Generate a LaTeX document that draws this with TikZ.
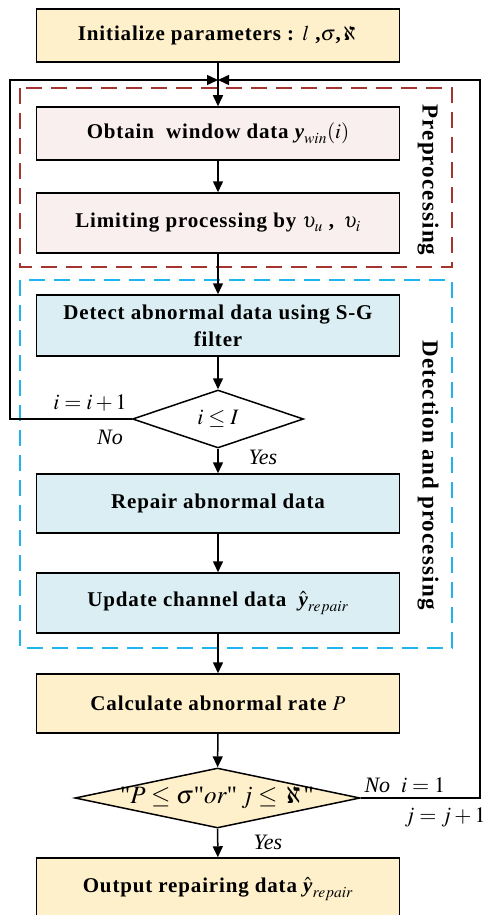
\documentclass[tikz,border=0pt]{standalone}
\usepackage{amsmath}
\usepackage{mathptmx}
\usepackage{fontspec}
\setmainfont{Liberation Serif}
\usetikzlibrary{arrows.meta,shapes.geometric}

\definecolor{boxyellow}{HTML}{FFF0CC}
\definecolor{boxpink}{HTML}{F9EFEE}
\definecolor{boxblue}{HTML}{DAEEF3}
\definecolor{dashred}{HTML}{A4342F}
\definecolor{dashblue}{HTML}{1EB4EE}
\newcommand{\bfy}{\mbox{\bfseries\itshape y}}
\newcommand{\qq}{\textquotedbl}

\tikzset{
  procbox/.style={draw, line width=1.5pt, minimum width=363pt, inner sep=2pt,
    align=center, font=\fontsize{21}{27}\selectfont\bfseries\addfontfeature{LetterSpace=4}},
  decbox/.style={diamond, draw, line width=1.5pt, inner sep=0pt},
  flow/.style={line width=1.5pt, -{Triangle[length=11pt,width=10pt]}},
  grouprect/.style={line width=1.5pt, dash pattern=on 16pt off 9pt},
  sidelabel/.style={rotate=-90, font=\fontsize{23}{25}\selectfont\bfseries\addfontfeature{LetterSpace=5}},
  note/.style={font=\fontsize{22}{24}\selectfont}
}

\begin{document}
\begin{tikzpicture}[x=1pt,y=-1pt]
   \clip (0,0) rectangle (488,915);
   \fill[white] (0,0) rectangle (488,915);

   \draw[grouprect, dashred] (20,88) rectangle (452,267);
   \draw[grouprect, dashblue] (20,280) rectangle (452,648);
   \node[sidelabel] (pre) at (428,180) {Preprocessing};
   \node[sidelabel] (det) at (428,475) {Detection and processing};

   \node[procbox, fill=boxyellow, minimum height=53pt] (init) at (218,35.5)
     {Initialize parameters : $l$ ,$\sigma$,$\aleph$};
   \node[procbox, fill=boxpink, minimum height=53pt] (obtain) at (218,133.5)
     {Obtain\ \ window data $\bfy_{win}(i)$};
   \node[procbox, fill=boxpink, minimum height=60pt] (limit) at (218,223)
     {Limiting processing by $\upsilon_u$ , \,$\upsilon_i$};
   \node[procbox, fill=boxblue, minimum height=61pt] (detect) at (218,325.5)
     {Detect abnormal data using S-G\\filter};
   \node[decbox, aspect=2.95, minimum width=171pt, minimum height=58pt,
     font=\fontsize{22}{24}\selectfont] (dec1) at (218,419) {$i\le I$};
   \node[procbox, fill=boxblue, minimum height=59pt] (repair) at (218,503.5)
     {Repair abnormal data};
   \node[procbox, fill=boxblue, minimum height=60pt] (update) at (218,603)
     {Update channel data \ $\hat{\bfy}_{repair}$};
   \node[procbox, fill=boxyellow, minimum height=59pt] (calc) at (218,703.5)
     {Calculate abnormal rate $P$};
   \node[decbox, aspect=4.75, fill=boxyellow, minimum width=285pt, minimum height=60pt]
     (dec2) at (217.5,798) {};
   \node[font=\fontsize{25}{27}\selectfont, inner sep=0pt] (cond) at (217,798)
     {\qq$P\le\sigma$\qq$\mathit{or}$\qq\,$j\le\aleph$\qq};
   \node[procbox, fill=boxyellow, minimum height=62pt] (output) at (218,889)
     {Output repairing data $\hat{\bfy}_{repair}$};

   \coordinate (join) at (218,80);
   \coordinate (lx) at (10,80);
   \coordinate (rx) at (480,80);

   \draw[flow] (init) -- (obtain);
   \draw[flow] (obtain) -- (limit);
   \draw[flow] (limit) -- (detect);
   \draw[flow] (detect) -- (dec1);
   \draw[flow] (dec1) -- (repair);
   \draw[flow] (repair) -- (update);
   \draw[flow] (update) -- (calc);
   \draw[flow] (calc) -- (dec2);
   \draw[flow] (dec2) -- (output);
   \draw[flow] (dec1.west) -| (lx) -- (join);
   \draw[flow] (dec2.east) -| (rx) -- (join);

   \node[note] (inc) at (90,403) {$i=i+1$};
   \node[note] (no1) at (110,437) {\itshape No};
   \node[note] (yes1) at (263,457) {\itshape Yes};
   \node[note, anchor=west] (no2) at (361,785) {\itshape No\ \ $i=1$};
   \node[note] (incj) at (445,817) {$j=j+1$};
   \node[note] (yes2) at (268,842) {\itshape Yes};
\end{tikzpicture}
\end{document}
